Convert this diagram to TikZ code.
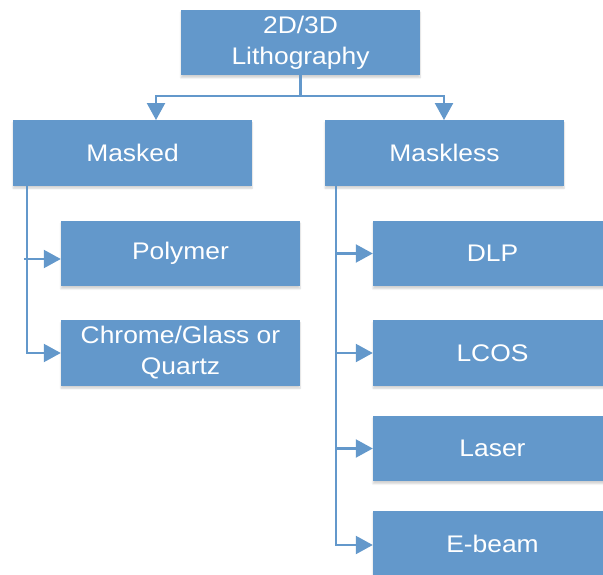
\documentclass[tikz,border=0pt]{standalone}
\usepackage{fontspec}
\newfontfamily\boxfont[FakeStretch=1.1]{Liberation Sans}
\usetikzlibrary{arrows.meta,shadows.blur}
\definecolor{boxblue}{RGB}{99,152,203}
\tikzset{
  box/.style={fill=boxblue, draw=none, text=white, minimum width=239pt, minimum height=65.5pt,
    inner sep=0pt, align=center, font=\boxfont\fontsize{24}{31}\selectfont,
    blur shadow={shadow xshift=0pt, shadow yshift=-2.5pt, shadow blur steps=6, shadow opacity=18}},
  link/.style={draw=boxblue, line width=2.2pt},
  arr/.style={link, -{Triangle[length=17pt,width=18pt]}}
}
\begin{document}
\begin{tikzpicture}[x=1pt,y=-1pt]
\useasboundingbox (0,0) rectangle (603,575);
\node[box] (top) at (300.5,42.5) {2D/3D\\Lithography};
\node[box] (masked) at (132.5,153) {Masked};
\node[box] (maskless) at (444.5,153) {Maskless};
\node[box] (polymer) at (180.5,253.5) {Polymer};
\node[box] (chrome) at (180.5,353) {Chrome/Glass or\\Quartz};
\node[box] (dlp) at (492.5,253.5) {DLP};
\node[box] (lcos) at (492.5,353) {LCOS};
\node[box] (laser) at (492.5,448.5) {Laser};
\node[box] (ebeam) at (492.5,543.5) {E-beam};
% top connectors
\draw[arr] (top.south) -- ++(0,20.5) -| ([xshift=23.5pt]masked.north);
\draw[arr] (top.south) -- ++(0,20.5) -| ([xshift=-0.5pt]maskless.north);
% left bus
\coordinate (lbus) at ([xshift=-105.5pt]masked.south);
\draw[arr] (lbus) |- (chrome.west);
\draw[arr] ([xshift=-37pt,yshift=-5.5pt]polymer.west) -- ([yshift=-5.5pt]polymer.west);
% right bus
\coordinate (rbus) at ([xshift=-108.5pt]maskless.south);
\draw[arr] (rbus) |- ([yshift=-1.5pt]ebeam.west);
\draw[arr] (rbus |- dlp.west) -- (dlp.west);
\draw[arr] (rbus |- lcos.west) -- (lcos.west);
\draw[arr] (rbus |- laser.west) -- (laser.west);
\end{tikzpicture}
\end{document}
